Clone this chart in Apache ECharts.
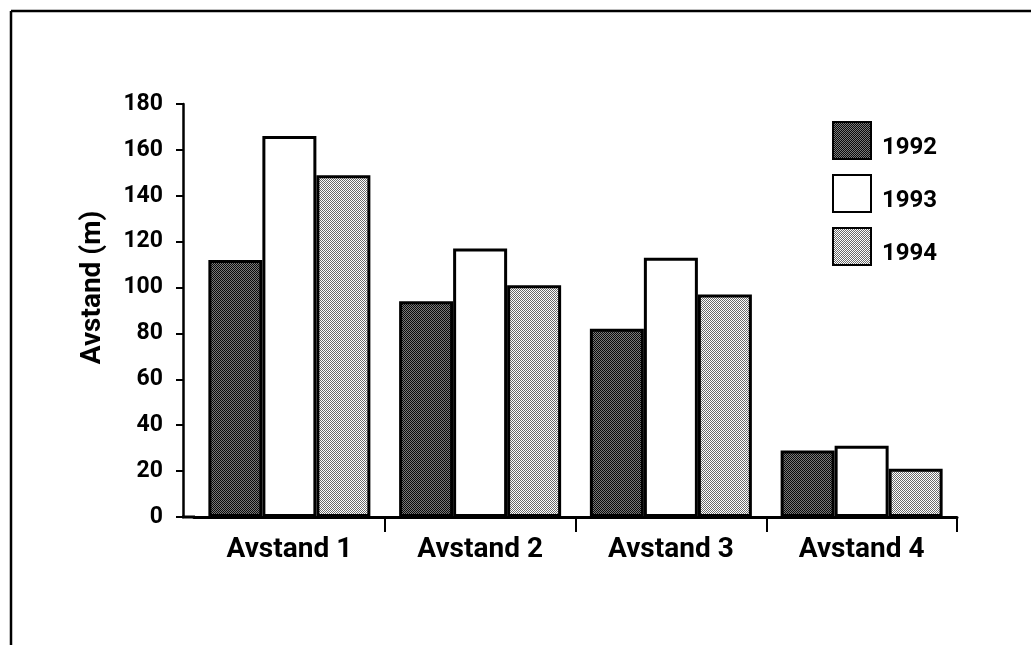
<!DOCTYPE html>
<html>
<head>
<meta charset="utf-8">
<script src="https://cdn.jsdelivr.net/npm/echarts@6/dist/echarts.min.js"></script>
<style>
html,body{margin:0;padding:0;background:#fff;}
#chart{width:1031px;height:645px;}
</style>
</head>
<body>
<div id="chart"></div>
<script>
const categories = ['Avstand 1', 'Avstand 2', 'Avstand 3', 'Avstand 4'];
const seriesNames = ['1992', '1993', '1994'];
const values1992 = [112, 94, 82, 29];
const values1993 = [166, 117, 113, 31];
const values1994 = [149, 101, 97, 21];
const yTicks = { min: 0, max: 180, interval: 20 };

function makePattern(a, b) {
  const c = document.createElement('canvas');
  c.width = 2; c.height = 2;
  const ctx = c.getContext('2d');
  ctx.fillStyle = b; ctx.fillRect(0, 0, 2, 2);
  ctx.fillStyle = a; ctx.fillRect(0, 0, 1, 1); ctx.fillRect(1, 1, 1, 1);
  return { image: c, repeat: 'repeat' };
}
const darkFill = makePattern('#0a0a0a', '#7a7a7a');
const lightFill = makePattern('#6a6a6a', '#ffffff');
const fills = [darkFill, '#ffffff', lightFill];
const dataSets = [values1992, values1993, values1994];

const font = 'Roboto, "Open Sans", "DejaVu Sans", sans-serif';
const frame = [
  { type: 'line', shape: { x1: 11, y1: 11, x2: 1031, y2: 11 }, style: { stroke: '#000', lineWidth: 2.5 } },
  { type: 'line', shape: { x1: 11, y1: 11, x2: 11, y2: 645 }, style: { stroke: '#000', lineWidth: 2.5 } }
];
const chart = echarts.init(document.getElementById('chart'));
chart.setOption({
  animation: false,
  backgroundColor: '#ffffff',
  grid: { left: 194, right: 74, top: 104, bottom: 128, containLabel: false },
  legend: {
    orient: 'vertical',
    left: 832,
    top: 121,
    padding: 0,
    icon: 'rect',
    itemWidth: 38,
    itemHeight: 37,
    itemGap: 14,
    data: seriesNames,
    formatter: '{t|{name}}',
    textStyle: {
      fontFamily: font, fontSize: 24, fontWeight: 'bold', color: '#000',
      rich: { t: { fontFamily: font, fontSize: 24, fontWeight: 'bold', color: '#000', lineHeight: 24, padding: [14, 0, 0, 6] } }
    }
  },
  xAxis: {
    type: 'category',
    data: categories,
    axisLine: { lineStyle: { color: '#000', width: 3 } },
    axisTick: { show: true, length: 15, interval: (i) => i !== 0, lineStyle: { color: '#000', width: 2 } },
    axisLabel: { fontFamily: font, fontSize: 28, fontWeight: 'bold', color: '#000', margin: 19 }
  },
  yAxis: {
    type: 'value',
    offset: 11,
    min: yTicks.min,
    max: yTicks.max,
    interval: yTicks.interval,
    name: 'Avstand (m)',
    nameLocation: 'middle',
    nameGap: 76,
    nameTextStyle: { fontFamily: font, fontSize: 28, fontWeight: 'bold', color: '#000', padding: [0, 0, 0, 46] },
    splitLine: { show: false },
    axisLine: { show: true, lineStyle: { color: '#000', width: 2.5 } },
    axisTick: { show: true, length: 7, lineStyle: { color: '#000', width: 2 } },
    axisLabel: { fontFamily: font, fontSize: 23, fontWeight: 'bold', color: '#000', margin: 20 }
  },
  series: seriesNames.map((n, i) => ({
    name: n,
    type: 'bar',
    data: dataSets[i],
    barWidth: 54,
    barGap: '0%',
    itemStyle: { color: fills[i], borderColor: '#000', borderWidth: 3 }
  })),
  graphic: frame
});
// extend the x axis baseline to meet the offset y axis
const y0 = chart.convertToPixel({ yAxisIndex: 0 }, yTicks.min);
const gridRect = chart.getModel().getComponent('grid').coordinateSystem.getRect();
chart.setOption({
  graphic: frame.concat([
    { type: 'line', shape: { x1: gridRect.x - 12, y1: y0, x2: gridRect.x + 1, y2: y0 }, style: { stroke: '#000', lineWidth: 3 } }
  ])
});
</script>
</body>
</html>
